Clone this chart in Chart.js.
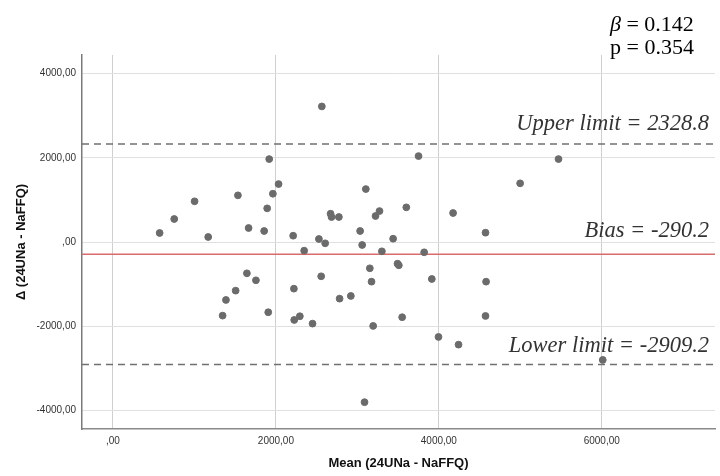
<!DOCTYPE html>
<html>
<head>
<meta charset="utf-8">
<script src="https://cdn.jsdelivr.net/npm/chart.js@4"></script>
<style>
  body { margin: 0; background: #fff; }
</style>
</head>
<body>
<canvas id="baChart" width="720" height="476"></canvas>
<script>
// mean of the two methods (x) and difference 24UNa - NaFFQ (y)
var meanVals = [2564, 1918, 2033, 1963, 1893, 1856, 1534, 1665, 1002, 752,
    573, 1169, 2212, 2347, 2528, 2605, 2671, 2683, 2773, 3104,
    3034, 3059, 3223, 3272, 3301, 3439, 3601, 3751, 4175, 4573,
    4998, 5469, 3820, 1644, 1755, 1506, 1387, 1346, 1906, 2221,
    2225, 2294, 2450, 2556, 2782, 2920, 3153, 3174, 3194, 3493,
    3509, 3550, 3088, 3914, 4580, 4573, 3996, 4242, 6012];
var diffVals = [3219, 1969, 1376, 1146, 799, 261, 1108, 332, 966, 546,
    214, 119, 149, -206, 71, -31, 671, 593, 593, 1257,
    261, -71, 617, 735, -221, 78, 823, 2040, 688, 221,
    1393, 1969, -244, -743, -909, -1155, -1376, -1748, -1668, -1108,
    -1851, -1763, -1938, -814, -1345, -1281, -624, -942, -1993, -515,
    -553, -1786, -3803, -878, -942, -1756, -2254, -2437, -2800];

var bias = -290.2;
var upperLimit = 2328.8;
var lowerLimit = -2909.2;
var beta = "0.142";
var pValue = "0.354";

var xTicks = [0, 2000, 4000, 6000];
var yTicks = [-4000, -2000, 0, 2000, 4000];
var xMin = -380, xMax = 7390;
var yMin = -4440, yMax = 4440;

var points = meanVals.map(function (m, i) { return { x: m, y: diffVals[i] }; });

function hLine(v) {
    return [{ x: xMin, y: v }, { x: xMax, y: v }];
}

function fmt(v) {
    return v === 0 ? ",00" : v + ",00";
}

var lineLabels = [
    { value: upperLimit, text: "Upper limit = " + upperLimit.toFixed(1), lift: 14 },
    { value: bias, text: "Bias = " + bias.toFixed(1), lift: 17 },
    { value: lowerLimit, text: "Lower limit = " + lowerLimit.toFixed(1), lift: 13 }
];

var textPlugin = {
    id: "baText",
    afterDatasetsDraw: function (chart) {
        var ctx = chart.ctx;
        var ys = chart.scales.y;
        var right = chart.chartArea.right - 6;
        ctx.save();
        ctx.fillStyle = "#333";
        ctx.font = "italic 22.5px 'Liberation Serif'";
        ctx.textAlign = "right";
        ctx.textBaseline = "alphabetic";
        lineLabels.forEach(function (l) {
            ctx.fillText(l.text, right, ys.getPixelForValue(l.value) - l.lift);
        });

        // beta / p in the top right corner
        ctx.textAlign = "left";
        ctx.fillStyle = "#000";
        var x0 = 610;
        ctx.font = "italic 22px 'Liberation Serif'";
        ctx.fillText("\u03b2", x0, 31);
        var w = ctx.measureText("\u03b2").width;
        ctx.font = "22px 'Liberation Serif'";
        ctx.fillText(" = " + beta, x0 + w, 31);
        ctx.fillText("p = " + pValue, x0, 54);
        ctx.restore();
    }
};

new Chart("baChart", {
    type: "scatter",
    data: {
        datasets: [
            {
                data: points,
                backgroundColor: "#6b6b6b",
                borderColor: "#6b6b6b",
                pointRadius: 3.4,
                order: 1
            },
            {
                type: "line",
                data: hLine(bias),
                borderColor: "#d96b6b",
                borderWidth: 1.5,
                pointRadius: 0,
                order: 2
            },
            {
                type: "line",
                data: hLine(upperLimit),
                borderColor: "#707070",
                borderWidth: 1.5,
                borderDash: [7, 5],
                pointRadius: 0,
                order: 2
            },
            {
                type: "line",
                data: hLine(lowerLimit),
                borderColor: "#707070",
                borderWidth: 1.5,
                borderDash: [7, 5],
                pointRadius: 0,
                order: 2
            }
        ]
    },
    options: {
        responsive: false,
        animation: false,
        layout: {
            padding: { top: 55, right: 4, left: 0, bottom: 0 }
        },
        plugins: {
            legend: { display: false },
            tooltip: { enabled: false }
        },
        scales: {
            x: {
                type: "linear",
                min: xMin,
                max: xMax,
                afterBuildTicks: function (s) {
                    s.ticks = xTicks.map(function (v) { return { value: v }; });
                },
                afterFit: function (s) { s.height = 47; },
                grid: {
                    color: "#cfcfcf",
                    drawTicks: false
                },
                border: { color: "#8a8a8a", width: 1.5 },
                ticks: {
                    padding: 6,
                    color: "#333",
                    font: { family: "'Liberation Sans'", size: 10 },
                    callback: fmt
                },
                title: {
                    display: true,
                    text: "Mean (24UNa - NaFFQ)",
                    color: "#111",
                    font: { family: "'Liberation Sans'", size: 13, weight: "bold" },
                    padding: { top: 0, bottom: 5 }
                }
            },
            y: {
                type: "linear",
                min: yMin,
                max: yMax,
                afterBuildTicks: function (s) {
                    s.ticks = yTicks.map(function (v) { return { value: v }; });
                },
                afterFit: function (s) { s.width = 82; },
                grid: {
                    color: "#e0e0e0",
                    drawTicks: false
                },
                border: { color: "#7a7a7a", width: 1.5 },
                ticks: {
                    padding: 6,
                    color: "#333",
                    font: { family: "'Liberation Sans'", size: 10 },
                    callback: fmt
                },
                title: {
                    display: true,
                    text: "\u0394 (24UNa - NaFFQ)",
                    color: "#111",
                    font: { family: "'Liberation Sans'", size: 13, weight: "bold" },
                    padding: { top: 14, bottom: 0 }
                }
            }
        }
    },
    plugins: [textPlugin]
});
</script>
</body>
</html>
